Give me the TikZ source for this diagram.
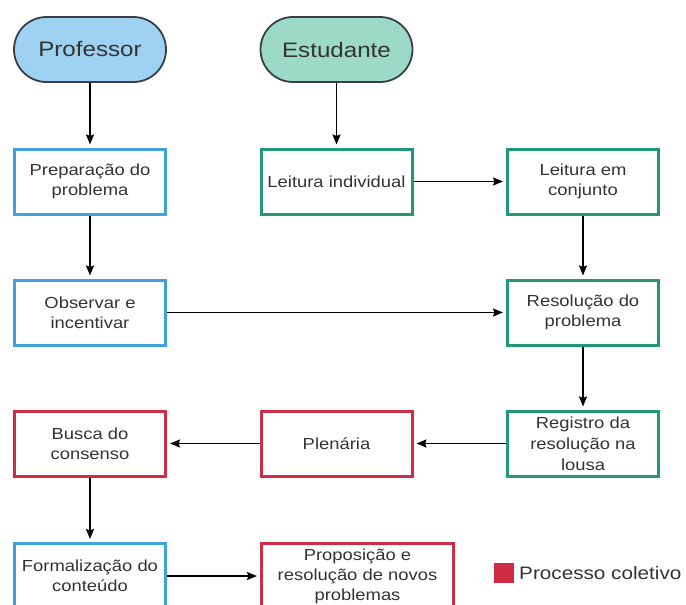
\documentclass[tikz,border=0pt]{standalone}
\usepackage{fontspec}
\setmainfont{Liberation Sans}[FakeStretch=1.15]
\usetikzlibrary{arrows.meta}
\definecolor{blueB}{HTML}{3FA2DB}
\definecolor{greenB}{HTML}{23977A}
\definecolor{redB}{HTML}{D12C45}
\definecolor{profFill}{HTML}{9FD2F2}
\definecolor{estFill}{HTML}{9CD9C6}
\definecolor{txt}{HTML}{333333}
\definecolor{termB}{HTML}{3A3F45}
\begin{document}
\begin{tikzpicture}[x=1pt,y=-1pt,
  box/.style={draw, line width=3pt, fill=white, minimum width=151pt, minimum height=65pt,
    inner sep=0pt, align=center, text=txt, font=\fontsize{16}{20}\selectfont},
  bluebox/.style={box, draw=blueB},
  greenbox/.style={box, draw=greenB},
  redbox/.style={box, draw=redB},
  term/.style={draw=termB, line width=1.8pt, minimum width=152pt, minimum height=65pt,
    rounded corners=32.5pt, inner sep=0pt, text=txt, font=\fontsize{21}{24}\selectfont},
  arr/.style={line width=1.5pt, -{Stealth[length=10pt,width=8pt,inset=1.5pt]}, shorten >=3pt}
]
\clip (0,0) rectangle (686,605);
\fill[white] (0,0) rectangle (686,605);

\node[term, fill=profFill] (prof) at (90,49.5) {Professor};
\node[term, fill=estFill] (est) at (336.5,49.5) {Estudante};

\node[bluebox] (prep) at (90,181.5) {Preparação do\\problema};
\node[greenbox] (li) at (336.5,181.5) {Leitura individual};
\node[greenbox] (lc) at (583,181.5) {Leitura em\\conjunto};

\node[bluebox] (obs) at (90,312.5) {Observar e\\incentivar};
\node[greenbox] (res) at (583,312.5) {Resolução do\\problema};

\node[redbox] (busca) at (90,443.5) {Busca do\\consenso};
\node[redbox] (plen) at (336.5,443.5) {Plenária};
\node[greenbox, font=\fontsize{16}{21}\selectfont] (reg) at (583,443.5) {Registro da\\resolução na\\lousa};

\node[bluebox] (form) at (90,576) {Formalização do\\conteúdo};
\node[redbox, minimum width=192pt] (prop) at (357.5,576) {Proposição e\\resolução de novos\\problemas};

\node[fill=redB, minimum size=20pt, inner sep=0pt] (legsq) at (504,573) {};
\node[anchor=west, text=txt, font=\fontsize{18}{20}\selectfont, inner sep=0pt] (legtxt) at (519,573) {Processo coletivo};

\draw[arr] (prof) -- (prep);
\draw[arr] (est) -- (li);
\draw[arr] (li) -- (lc);
\draw[arr] (lc) -- (res);
\draw[arr] (prep) -- (obs);
\draw[arr] (obs) -- (res);
\draw[arr] (res) -- (reg);
\draw[arr] (reg) -- (plen);
\draw[arr] (plen) -- (busca);
\draw[arr] (busca) -- (form);
\draw[arr] (form) -- (prop);
\end{tikzpicture}
\end{document}
